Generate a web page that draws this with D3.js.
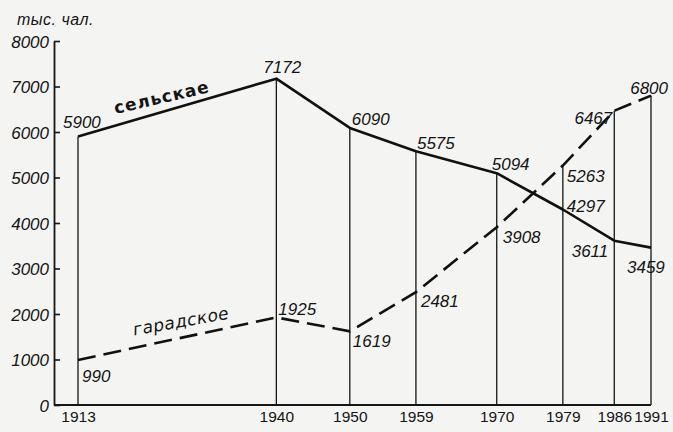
<!DOCTYPE html>
<html>
<head>
<meta charset="utf-8">
<script src="https://cdn.jsdelivr.net/npm/d3@7"></script>
<style>
  body { margin: 0; background: #f4f4f2; }
</style>
</head>
<body>
<div id="app"></div>
<script>
(function (d3) {

  'use strict'

  // population of Belarus, thousand people
  const years = [1913, 1940, 1950, 1959, 1970, 1979, 1986, 1991]
  const rural = [5900, 7172, 6090, 5575, 5094, 4297, 3611, 3459]
  const urban = [990, 1925, 1619, 2481, 3908, 5263, 6467, 6800]
  const yTicks = [0, 1000, 2000, 3000, 4000, 5000, 6000, 7000, 8000]
  const ruralName = 'сельскае'
  const urbanName = 'гарадское'
  const unitLabel = 'тыс. чал.'

  // where each value label sits relative to its point [dx, dy, anchor]
  const ruralLabelPos = [[-15, -9, 'start'], [-13, -6, 'start'], [2, -3, 'start'], [1, -2, 'start'],
    [-5, -3, 'start'], [4, 3, 'start'], [-6, 16, 'end'], [-24, 25, 'start']]
  const urbanLabelPos = [[4, 22, 'start'], [2, -2, 'start'], [3, 16, 'start'], [5, 15, 'start'],
    [6, 16, 'start'], [4, 16, 'start'], [-2, 13, 'end'], [17, -2, 'end']]

  const w = 673
  const h = 432
  const ink = '#151515'
  const numFont = "'Liberation Sans', Arial, sans-serif"

  const x = d3.scaleLinear()
  .domain([1913, 1991])
  .range([78, 651])

  const y = d3.scaleLinear()
  .domain([0, 8000])
  .range([405, 41])

  const axisX = 54

  const svg = d3.select('#app')
  .append('svg')
  .attr('width', w)
  .attr('height', h)

  svg.append('rect')
  .attr('width', w)
  .attr('height', h)
  .attr('fill', '#f4f4f2')

  const italicNum = function (sel) {
    sel.attr('fill', ink)
    .style('font-family', numFont)
    .style('font-style', 'italic')
    .style('font-size', '17px')
  }

  // y axis, ticks pointing into the chart
  const yAxis = svg.append('g')
  .attr('transform', 'translate(' + axisX + ',0)')
  .call(d3.axisLeft(y).tickValues(yTicks).tickSizeInner(-6).tickSizeOuter(0).tickPadding(5).tickFormat(d3.format('d')))

  yAxis.select('.domain')
  .attr('stroke', ink)
  .attr('stroke-width', 1.8)
  yAxis.selectAll('.tick line')
  .attr('stroke', ink)
  .attr('stroke-width', 1.6)
  yAxis.selectAll('.tick text')
  .call(italicNum)
  .attr('dy', '0.36em')

  // baseline
  svg.append('line')
  .attr('x1', axisX)
  .attr('x2', x(1991))
  .attr('y1', y(0))
  .attr('y2', y(0))
  .attr('stroke', ink)
  .attr('stroke-width', 1.8)

  // x axis labels only
  const xAxis = svg.append('g')
  .attr('transform', 'translate(0,' + y(0) + ')')
  .call(d3.axisBottom(x).tickValues(years).tickSize(0).tickPadding(6).tickFormat(d3.format('d')))
  xAxis.select('.domain').remove()
  xAxis.selectAll('.tick text')
  .attr('fill', ink)
  .style('font-family', numFont)
  .style('font-size', '15.5px')

  // drop lines from the higher value
  svg.append('g')
  .selectAll('line')
  .data(years)
  .enter()
  .append('line')
  .attr('x1', d => x(d))
  .attr('x2', d => x(d))
  .attr('y1', (d, i) => y(Math.max(rural[i], urban[i])))
  .attr('y2', y(0))
  .attr('stroke', ink)
  .attr('stroke-width', 1.3)

  const line = d3.line()
  .x(d => x(d[0]))
  .y(d => y(d[1]))

  svg.append('path')
  .datum(d3.zip(years, rural))
  .attr('d', line)
  .attr('fill', 'none')
  .attr('stroke', '#111')
  .attr('stroke-width', 2.6)
  .attr('stroke-linejoin', 'round')

  svg.append('path')
  .datum(d3.zip(years, urban))
  .attr('d', line)
  .attr('fill', 'none')
  .attr('stroke', '#111')
  .attr('stroke-width', 2.6)
  .attr('stroke-dasharray', '18,8')

  const addLabels = function (values, pos) {
    svg.append('g')
    .selectAll('text')
    .data(values)
    .enter()
    .append('text')
    .call(italicNum)
    .attr('x', (d, i) => x(years[i]) + pos[i][0])
    .attr('y', (d, i) => y(d) + pos[i][1])
    .attr('text-anchor', (d, i) => pos[i][2])
    .text(d => d)
  }
  addLabels(rural, ruralLabelPos)
  addLabels(urban, urbanLabelPos)

  // series names along the lines
  svg.append('text')
  .attr('transform', 'translate(163,103) rotate(-13)')
  .attr('text-anchor', 'middle')
  .attr('fill', ink)
  .style('font-family', "'DejaVu Sans', sans-serif")
  .style('font-size', '17px')
  .style('font-weight', 'bold')
  .style('letter-spacing', '1px')
  .text(ruralName)

  svg.append('text')
  .attr('transform', 'translate(182,327) rotate(-10)')
  .attr('text-anchor', 'middle')
  .attr('fill', ink)
  .style('font-family', "'DejaVu Sans', sans-serif")
  .style('font-size', '17px')
  .style('font-style', 'italic')
  .style('letter-spacing', '0.5px')
  .text(urbanName)

  svg.append('text')
  .attr('x', 17)
  .attr('y', 25)
  .attr('fill', ink)
  .style('font-family', numFont)
  .style('font-style', 'italic')
  .style('font-size', '16px')
  .style('letter-spacing', '0.5px')
  .text(unitLabel)

}(d3))
</script>
</body>
</html>
